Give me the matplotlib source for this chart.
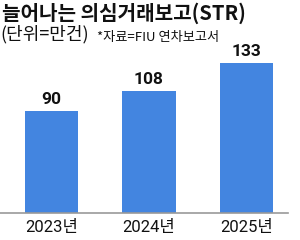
import matplotlib
matplotlib.use("Agg")
import matplotlib.pyplot as plt

years = ["2023년", "2024년", "2025년"]
counts = [90, 108, 133]

plt.rcParams["font.family"] = ["Roboto", "Noto Sans CJK KR"]

fig = plt.figure(figsize=(3, 2.4), dpi=100)
ax = fig.add_axes([0, 27 / 240, 288 / 300, 168 / 240])

x = range(len(counts))
ax.bar(x, counts, width=0.545, color="#4385E0")
for xi, v in zip(x, counts):
    ax.text(xi, v + 3.5, str(v), ha="center", va="bottom",
            fontsize=12.5, fontweight="bold", color="#111111")

ax.set_xlim(-0.528, 2.426)
ax.set_ylim(0, 148.7)
ax.set_xticks(list(x))
ax.set_xticklabels(years, fontsize=12, color="#111111")
ax.tick_params(axis="x", length=0, pad=5)
ax.set_yticks([])
for s in ["top", "left", "right"]:
    ax.spines[s].set_visible(False)
ax.spines["bottom"].set_color("#999999")
ax.spines["bottom"].set_linewidth(1.2)

fig.text(0.005, 0.99, "늘어나는 의심거래보고(STR)", ha="left", va="top",
         fontsize=14.5, fontweight="bold", family=["Noto Sans CJK KR"], color="#111111")
fig.text(0.0, 0.895, "(단위=만건)", ha="left", va="top",
         fontsize=13, family=["Noto Sans CJK KR"], color="#111111")
fig.text(0.323, 0.87, "*자료=FIU 연차보고서", ha="left", va="top",
         fontsize=9.5, family=["Noto Sans CJK KR"], color="#111111")

fig.savefig("out.png", dpi=100)
